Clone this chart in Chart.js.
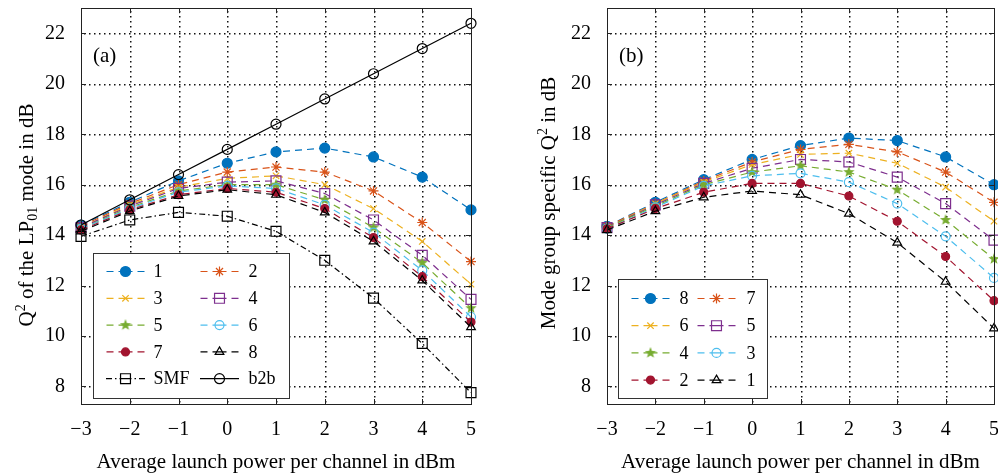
<!DOCTYPE html>
<html>
<head>
<meta charset="utf-8">
<script src="https://cdn.jsdelivr.net/npm/chart.js@4.4.0/dist/chart.umd.min.js"></script>
<style>
  html, body { margin: 0; padding: 0; background: #fff; overflow: hidden; }
  body { width: 998px; height: 475px; position: relative; }
  canvas { position: absolute; top: 0; }
  #chartA { left: 0; }
  #chartB { left: 520px; }
</style>
</head>
<body>
<canvas id="chartA" width="480" height="475"></canvas>
<canvas id="chartB" width="490" height="475"></canvas>
<script>
// x values (launch power, dBm) and y tick values
const powers = [-3, -2, -1, 0, 1, 2, 3, 4, 5];
const yTicks = [8, 10, 12, 14, 16, 18, 20, 22];

// (a) Q^2 of the LP01 mode, one series per number of modes
const labelsA = ['1', '2', '3', '4', '5', '6', '7', '8'];
const a1 = [14.4, 15.3, 16.15, 16.85, 17.3, 17.45, 17.1, 16.3, 15.0];
const a2 = [14.35, 15.25, 16.0, 16.5, 16.7, 16.5, 15.75, 14.5, 12.95];
const a3 = [14.3, 15.2, 15.9, 16.25, 16.35, 16.0, 15.05, 13.75, 12.05];
const a4 = [14.3, 15.15, 15.85, 16.1, 16.15, 15.65, 14.6, 13.2, 11.45];
const a5 = [14.25, 15.1, 15.75, 16.0, 16.0, 15.4, 14.3, 12.9, 11.1];
const a6 = [14.25, 15.05, 15.7, 15.95, 15.85, 15.2, 14.1, 12.6, 10.75];
const a7 = [14.2, 15.0, 15.6, 15.85, 15.7, 15.05, 13.9, 12.35, 10.55];
const a8 = [14.15, 14.95, 15.55, 15.8, 15.6, 14.9, 13.75, 12.2, 10.35];
const smf = [13.95, 14.6, 14.9, 14.75, 14.15, 13.0, 11.5, 9.7, 7.75];
const b2b = [14.4, 15.4, 16.4, 17.4, 18.4, 19.4, 20.4, 21.4, 22.4];

// (b) mode group specific Q^2, groups 8 down to 1
const labelsB = ['8', '7', '6', '5', '4', '3', '2', '1'];
const g8 = [14.35, 15.3, 16.2, 17.0, 17.55, 17.85, 17.75, 17.1, 16.0];
const g7 = [14.35, 15.25, 16.15, 16.9, 17.4, 17.6, 17.3, 16.5, 15.3];
const g6 = [14.3, 15.25, 16.1, 16.8, 17.2, 17.25, 16.85, 15.9, 14.55];
const g5 = [14.3, 15.2, 16.05, 16.65, 17.0, 16.9, 16.3, 15.25, 13.8];
const g4 = [14.3, 15.15, 16.0, 16.5, 16.75, 16.5, 15.8, 14.6, 13.05];
const g3 = [14.25, 15.1, 15.95, 16.35, 16.45, 16.1, 15.25, 13.95, 12.3];
const g2 = [14.25, 15.05, 15.7, 16.05, 16.05, 15.55, 14.55, 13.15, 11.4];
const g1 = [14.2, 14.95, 15.5, 15.75, 15.6, 14.85, 13.7, 12.15, 10.3];

// y axis titles as pieces: [text, 0 normal / 1 superscript / -1 subscript]
const yTitleA = [['Q', 0], ['2', 1], [' of the LP', 0], ['01', -1], [' mode in dB', 0]];
const yTitleB = [['Mode group specific Q', 0], ['2', 1], [' in dB', 0]];

const FONT = "'Liberation Serif', 'Times New Roman', serif";

// filled five-point star marker
function pentagram(color, size) {
  const c = document.createElement('canvas');
  c.width = size; c.height = size;
  const g = c.getContext('2d');
  const r = size / 2, ri = r * 0.42;
  g.beginPath();
  for (let i = 0; i < 10; i++) {
    const ang = -Math.PI / 2 + i * Math.PI / 5;
    const rr = i % 2 ? ri : r;
    g.lineTo(r + rr * Math.cos(ang), r + rr * Math.sin(ang));
  }
  g.closePath();
  g.fillStyle = color;
  g.fill();
  return c;
}

const colors = ['#0072BD', '#D95319', '#EDB120', '#7E2F8E', '#77AC30', '#4DBEEE', '#A2142F', '#000000'];
const marks = [
  { style: 'circle', r: 5, fill: true },
  { style: 'star', r: 5, fill: false },
  { style: 'crossRot', r: 4.5, fill: false },
  { style: 'rect', r: 7, fill: false },
  { style: pentagram('#77AC30', 12), r: 6, fill: true },
  { style: 'circle', r: 4.5, fill: false },
  { style: 'circle', r: 4, fill: true },
  { style: 'triangle', r: 5, fill: false }
];

function modeSet(label, data, i) {
  return {
    label, data: data.map((v, k) => ({ x: powers[k], y: v })),
    borderColor: colors[i], backgroundColor: colors[i],
    borderWidth: 1.2, borderDash: [7, 5],
    pointStyle: marks[i].style, pointRadius: marks[i].r,
    pointBorderColor: colors[i], pointBorderWidth: 1.2,
    pointBackgroundColor: marks[i].fill ? colors[i] : 'rgba(0,0,0,0)',
    order: -i, clip: false
  };
}

const dataA = [a1, a2, a3, a4, a5, a6, a7, a8];
const dataB = [g8, g7, g6, g5, g4, g3, g2, g1];

const setsA = dataA.map((d, i) => modeSet(labelsA[i], d, i));
setsA.push({
  label: 'SMF', data: smf.map((v, k) => ({ x: powers[k], y: v })),
  borderColor: '#000', borderWidth: 1.2, borderDash: [6, 3, 1.5, 3],
  pointStyle: 'rect', pointRadius: 7, pointBorderColor: '#000', pointBorderWidth: 1.2,
  pointBackgroundColor: 'rgba(0,0,0,0)', order: -8, clip: false
});
setsA.push({
  label: 'b2b', data: b2b.map((v, k) => ({ x: powers[k], y: v })),
  borderColor: '#000', borderWidth: 1.2, borderDash: [],
  pointStyle: 'circle', pointRadius: 5, pointBorderColor: '#000', pointBorderWidth: 1.2,
  pointBackgroundColor: 'rgba(0,0,0,0)', order: -9, clip: false
});
const setsB = dataB.map((d, i) => modeSet(labelsB[i], d, i));

// dotted grid under the data (drawn as small squares)
const dotGrid = {
  id: 'dotGrid',
  beforeDatasetsDraw(chart) {
    const { ctx, chartArea: ca, scales } = chart;
    ctx.save();
    ctx.fillStyle = '#111';
    powers.slice(1, -1).forEach(v => {
      const px = Math.round(scales.x.getPixelForValue(v));
      for (let y = ca.bottom - 3; y > ca.top; y -= 5) ctx.fillRect(px, Math.round(y), 1.5, 1.5);
    });
    yTicks.forEach(v => {
      const py = Math.round(scales.y.getPixelForValue(v));
      for (let x = ca.left + 3; x < ca.right; x += 5) ctx.fillRect(Math.round(x), py, 1.5, 1.5);
    });
    ctx.restore();
  }
};

// rotated y title with super/subscripts
function drawYTitle(ctx, parts, cx, cy) {
  const big = '21px ' + FONT, small = '14px ' + FONT;
  ctx.save();
  let w = 0;
  parts.forEach(p => { ctx.font = p[1] ? small : big; w += ctx.measureText(p[0]).width; });
  ctx.translate(cx, cy);
  ctx.rotate(-Math.PI / 2);
  ctx.fillStyle = '#000';
  ctx.textBaseline = 'alphabetic';
  let x = -w / 2;
  parts.forEach(p => {
    ctx.font = p[1] ? small : big;
    const dy = p[1] === 1 ? -8 : p[1] === -1 ? 4 : 0;
    ctx.fillText(p[0], x, 7 + dy);
    x += ctx.measureText(p[0]).width;
  });
  ctx.restore();
}

// box, inner tick marks, panel tag and legend
const decor = {
  id: 'decor',
  afterDatasetsDraw(chart, args, o) {
    const { ctx, chartArea: ca, scales } = chart;
    ctx.save();
    ctx.strokeStyle = '#222';
    ctx.lineWidth = 1;
    ctx.setLineDash([]);
    ctx.beginPath();
    powers.forEach(v => {
      const px = Math.round(scales.x.getPixelForValue(v)) + 0.5;
      ctx.moveTo(px, ca.bottom); ctx.lineTo(px, ca.bottom - 5);
      ctx.moveTo(px, ca.top); ctx.lineTo(px, ca.top + 5);
    });
    yTicks.forEach(v => {
      const py = Math.round(scales.y.getPixelForValue(v)) + 0.5;
      ctx.moveTo(ca.left, py); ctx.lineTo(ca.left + 5, py);
      ctx.moveTo(ca.right, py); ctx.lineTo(ca.right - 5, py);
    });
    ctx.stroke();
    ctx.strokeRect(Math.round(ca.left) + 0.5, Math.round(ca.top) + 0.5,
      Math.round(ca.right - ca.left), Math.round(ca.bottom - ca.top));

    drawYTitle(ctx, o.yTitle, o.titleX, o.titleY);

    ctx.fillStyle = '#000';
    ctx.font = '21px ' + FONT;
    ctx.textBaseline = 'middle';
    ctx.fillText(o.tag, ca.left + 12, ca.top + 48);

    // legend
    const L = o.legend;
    const bx = Math.round(ca.left + L.dx) + 0.5, by = Math.round(ca.bottom - L.dy - L.h) + 0.5;
    ctx.fillStyle = '#fff';
    ctx.fillRect(bx, by, L.w, L.h);
    ctx.strokeStyle = '#333';
    ctx.strokeRect(bx, by, L.w, L.h);
    ctx.font = L.font + 'px ' + FONT;
    ctx.textBaseline = 'middle';
    chart.data.datasets.forEach((ds, i) => {
      const col = i % 2, row = Math.floor(i / 2);
      const mx = bx + L.mx[col], my = by + L.row0 + row * L.rowH;
      ctx.strokeStyle = ds.borderColor;
      ctx.lineWidth = ds.borderWidth;
      ctx.setLineDash(ds.borderDash);
      ctx.beginPath();
      ctx.moveTo(mx, my); ctx.lineTo(mx - L.half, my);
      ctx.moveTo(mx, my); ctx.lineTo(mx + L.half, my);
      ctx.stroke();
      ctx.setLineDash([]);
      ctx.fillStyle = ds.pointBackgroundColor;
      ctx.strokeStyle = ds.pointBorderColor;
      ctx.lineWidth = ds.pointBorderWidth;
      Chart.helpers.drawPoint(ctx, {
        pointStyle: ds.pointStyle, radius: ds.pointRadius, rotation: 0, borderWidth: ds.pointBorderWidth
      }, mx, my);
      ctx.fillStyle = '#000';
      ctx.fillText(ds.label, bx + L.tx[col], my + 1);
    });
    ctx.restore();
  }
};

function minus(v) { return String(v).replace('-', '\u2212'); }

function makeChart(id, sets, yTitle, titleX, titleY, yWidth, padRight, tag, legend) {
  return new Chart(document.getElementById(id), {
    type: 'line',
    data: { datasets: sets },
    plugins: [dotGrid, decor],
    options: {
      responsive: false,
      animation: false,
      layout: { padding: { left: 0, top: 7, right: padRight, bottom: 0 } },
      plugins: {
        legend: { display: false },
        tooltip: { enabled: false },
        decor: { tag, legend, yTitle, titleX, titleY }
      },
      scales: {
        x: {
          type: 'linear', min: -3, max: 5,
          ticks: { stepSize: 1, color: '#000', font: { family: FONT, size: 20 }, padding: 6, callback: minus, maxRotation: 0 },
          grid: { display: false },
          border: { display: false },
          title: { display: true, text: 'Average launch power per channel in dBm', color: '#000',
                   font: { family: FONT, size: 21 }, padding: { top: 0, bottom: 0 } },
          afterFit: s => { s.height = 71; s.paddingLeft = 0; s.paddingRight = 0; }
        },
        y: {
          type: 'linear', min: 7.3, max: 23,
          afterBuildTicks: s => { s.ticks = yTicks.map(v => ({ value: v })); },
          ticks: { color: '#000', font: { family: FONT, size: 20 }, padding: 8, callback: minus },
          grid: { display: false },
          border: { display: false },
          afterFit: s => { s.width = yWidth; s.paddingTop = 0; s.paddingBottom = 0; }
        }
      }
    }
  });
}

makeChart('chartA', setsA, yTitleA, 26, 215, 81, 9, '(a)',
  { dx: 12, dy: 6, w: 196, h: 145, row0: 18, rowH: 26.8, mx: [32, 126], tx: [60, 155], half: 19.5, font: 18 });
makeChart('chartB', setsB, yTitleB, 28, 203, 87, 16, '(b)',
  { dx: 11, dy: 6, w: 149, h: 119, row0: 19, rowH: 27.2, mx: [32, 98], tx: [61, 128], half: 19.5, font: 18 });
</script>
</body>
</html>
